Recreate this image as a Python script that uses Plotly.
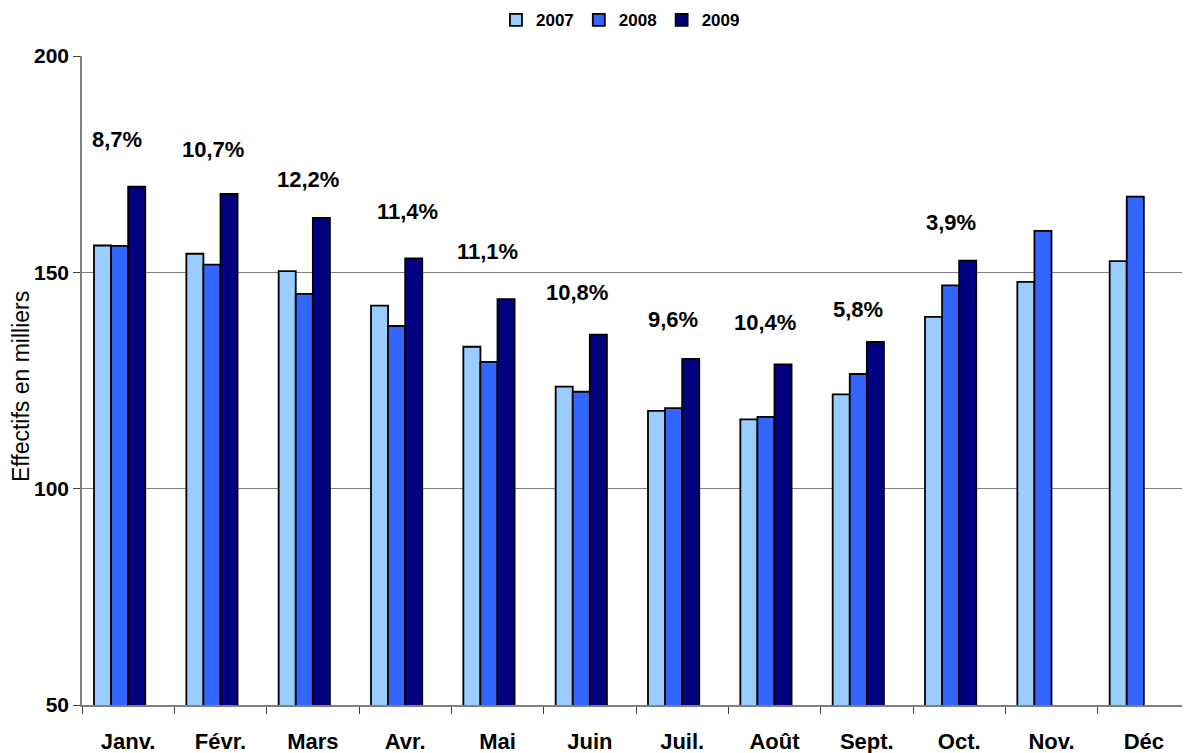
import plotly.graph_objs as go

# mois et effectifs (en milliers)
mois = ['Janv.', 'Févr.', 'Mars', 'Avr.', 'Mai', 'Juin', 'Juil.', 'Août', 'Sept.', 'Oct.', 'Nov.', 'Déc']
v2007 = [156.2, 154.3, 150.3, 142.3, 132.8, 123.6, 118.0, 116.0, 121.8, 139.7, 147.8, 152.6]
v2008 = [156.1, 151.8, 145.0, 137.6, 129.3, 122.4, 118.6, 116.6, 126.5, 147.0, 159.6, 167.5]
v2009 = [169.8, 168.1, 162.6, 153.2, 143.8, 135.6, 130.0, 128.7, 133.9, 152.7, None, None]
evolution = ['8,7%', '10,7%', '12,2%', '11,4%', '11,1%', '10,8%', '9,6%', '10,4%', '5,8%', '3,9%']
yticks = [50, 100, 150, 200]

# placement des étiquettes (décalage en pixels par rapport au haut de la barre 2009)
lab_dx = [-11, -8, -5, 2, -10, -13, -9, -10, -9, -8]
lab_dy = [47, 45, 38, 47, 48, 42, 39, 42, 32, 38]

font = 'Liberation Sans, Arial, sans-serif'
series = [('2007', v2007, '#99CCFF', -0.37), ('2008', v2008, '#3366FF', -0.185), ('2009', v2009, '#000080', 0.0)]

fig = go.Figure()
for name, vals, col, off in series:
    fig.add_trace(go.Bar(x=mois, y=vals, name='<b>%s</b>' % name,
                         marker=dict(color=col, line=dict(color='black', width=1.8)),
                         width=0.185, offset=off))

for i, txt in enumerate(evolution):
    fig.add_annotation(x=mois[i], y=v2009[i], text='<b>%s</b>' % txt, showarrow=False,
                       xshift=lab_dx[i], yshift=lab_dy[i], font=dict(size=22, color='black', family=font))

fig.add_annotation(x=-0.055, y=0.49, xref='paper', yref='paper', xanchor='center', yanchor='middle',
                   text='Effectifs en milliers', textangle=-90,
                   showarrow=False, font=dict(size=23, color='black', family=font))

# la page ajoute une marge de 8 px autour du graphique
fig.update_layout(
    width=1190, height=753, barmode='overlay',
    margin=dict(l=74, r=8, t=48, b=56, autoexpand=False),
    plot_bgcolor='white', paper_bgcolor='white',
    font=dict(family=font, color='black'),
    legend=dict(orientation='h', x=0.486, xanchor='center', y=1.055, yanchor='middle',
                font=dict(size=17, family=font), traceorder='normal', itemwidth=30),
    xaxis=dict(range=[-0.5, 11.5], showline=True, linecolor='#808080', linewidth=1.5, ticks='outside',
               tickson='boundaries', ticklen=7, tickcolor='#404040', showgrid=False,
               tickmode='array', tickvals=mois, ticktext=['<b>%s</b>' % m for m in mois],
               ticklabelstandoff=16, tickfont=dict(size=22, family=font)),
    yaxis=dict(range=[50, 200], showline=True, linecolor='#808080', linewidth=1.5, ticks='outside',
               ticklen=7, tickcolor='#404040', gridcolor='#808080', gridwidth=1.2,
               tickmode='array', tickvals=yticks, ticktext=['<b>%d</b>' % t for t in yticks],
               tickfont=dict(size=21, family=font)),
)

fig.write_html('out.html')
